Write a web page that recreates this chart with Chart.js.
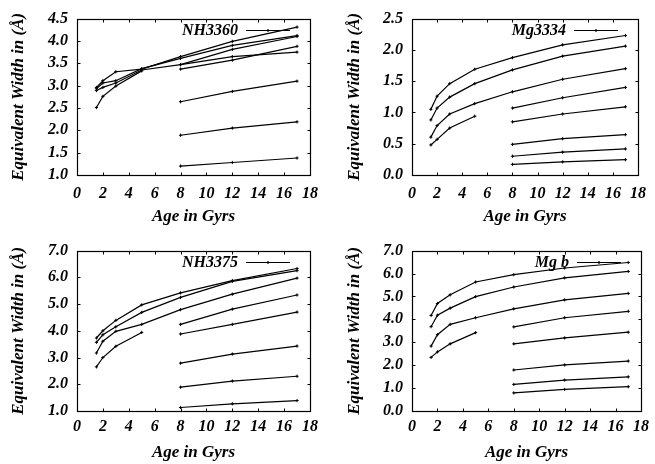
<!DOCTYPE html>
<html lang="en">
<head>
<meta charset="UTF-8">
<title>Equivalent width vs age</title>
<script src="https://cdn.jsdelivr.net/npm/chart.js"></script>
<style>
  body { margin: 0; background: #fff; }
  #wrap { position: relative; width: 655px; height: 464px; }
  #wrap canvas { position: absolute; }
</style>
</head>
<body>
<div id="wrap">
  <canvas id="c1" width="327" height="232" style="left:0;top:0"></canvas>
  <canvas id="c2" width="328" height="232" style="left:327px;top:0"></canvas>
  <canvas id="c3" width="327" height="232" style="left:0;top:232px"></canvas>
  <canvas id="c4" width="328" height="232" style="left:327px;top:232px"></canvas>
</div>
<script>
// ages (Gyr) at which each model track is sampled
const youngAges = [1.5, 2, 3, 5, 8, 12, 17];
const shortAges = [1.5, 2, 3, 5];
const oldAges = [8, 12, 17];

const panelNames = ['NH3360', 'Mg3334', 'NH3375', 'Mg b'];

// NH3360
const nh3360Young = [
  [2.96, 3.11, 3.31, 3.37, 3.65, 3.99, 4.31],
  [2.93, 3.06, 3.11, 3.38, 3.61, 3.90, 4.12],
  [2.89, 2.96, 3.06, 3.35, 3.47, 3.81, 4.10]
];
const nh3360Short = [2.51, 2.76, 2.99, 3.33];
const nh3360Old = [
  [3.47, 3.65, 3.75],
  [3.37, 3.57, 3.88],
  [2.64, 2.87, 3.10],
  [1.89, 2.05, 2.19],
  [1.20, 1.28, 1.38]
];

// Mg3334
const mg3334Young = [
  [1.05, 1.26, 1.46, 1.69, 1.875, 2.08, 2.23],
  [0.88, 1.07, 1.245, 1.46, 1.68, 1.90, 2.06],
  [0.605, 0.79, 0.975, 1.14, 1.33, 1.53, 1.70]
];
const mg3334Short = [0.48, 0.57, 0.75, 0.94];
const mg3334Old = [
  [1.07, 1.235, 1.40],
  [0.85, 0.975, 1.09],
  [0.49, 0.58, 0.645],
  [0.30, 0.366, 0.417],
  [0.17, 0.21, 0.245]
];

// NH3375
const nh3375Young = [
  [3.73, 4.00, 4.39, 4.97, 5.42, 5.88, 6.33],
  [3.57, 3.85, 4.15, 4.69, 5.25, 5.85, 6.25],
  [3.17, 3.61, 3.98, 4.24, 4.79, 5.37, 5.97]
];
const nh3375Short = [2.65, 3.00, 3.42, 3.94];
const nh3375Old = [
  [4.24, 4.81, 5.34],
  [3.88, 4.24, 4.70],
  [2.79, 3.13, 3.43],
  [1.89, 2.12, 2.30],
  [1.13, 1.27, 1.39]
];

// Mg b
const mgbYoung = [
  [4.17, 4.69, 5.07, 5.63, 5.95, 6.24, 6.48],
  [3.68, 4.18, 4.49, 4.99, 5.41, 5.81, 6.09],
  [2.83, 3.33, 3.78, 4.07, 4.46, 4.85, 5.13]
];
const mgbShort = [2.34, 2.58, 2.93, 3.42];
const mgbOld = [
  [3.67, 4.07, 4.35],
  [2.93, 3.19, 3.44],
  [1.79, 2.01, 2.18],
  [1.16, 1.35, 1.49],
  [0.79, 0.94, 1.06]
];

const FAMILY = "'Liberation Serif', 'Times New Roman', serif";
const tickFont = { family: FAMILY, size: 16, style: 'italic', weight: 'bold' };
const titleFont = { family: FAMILY, size: 17, style: 'italic', weight: 'bold' };

function track(ages, vals) {
  return {
    data: ages.map((a, i) => ({ x: a, y: vals[i] })),
    borderColor: '#000',
    borderWidth: 1.2,
    pointStyle: 'cross',
    pointRadius: 1.6,
    pointBorderWidth: 1,
    pointBorderColor: '#000',
    fill: false,
    tension: 0
  };
}

// box, inward ticks on all sides and the little key in the top right
const frame = {
  id: 'frame',
  afterDraw(chart) {
    const { ctx, chartArea: a, scales: { x, y } } = chart;
    const L = Math.round(a.left) + 0.5, R = Math.round(a.right) + 0.5;
    const T = Math.round(a.top) + 0.5, B = Math.round(a.bottom) + 0.5;
    ctx.save();
    ctx.strokeStyle = '#000';
    ctx.lineWidth = 1.2;
    ctx.strokeRect(L, T, R - L, B - T);
    ctx.lineWidth = 1;
    ctx.beginPath();
    x.ticks.forEach(t => {
      const px = Math.round(x.getPixelForValue(t.value)) + 0.5;
      ctx.moveTo(px, B); ctx.lineTo(px, B - 3);
      ctx.moveTo(px, T); ctx.lineTo(px, T + 3);
    });
    y.ticks.forEach(t => {
      const py = Math.round(y.getPixelForValue(t.value)) + 0.5;
      ctx.moveTo(L, py); ctx.lineTo(L + 3, py);
      ctx.moveTo(R, py); ctx.lineTo(R - 3, py);
    });
    ctx.stroke();

    const key = chart.options.plugins.frame.key;
    const ky = Math.round(a.top + 11) + 0.5;
    const x2 = a.right - 20, x1 = x2 - 44;
    const mx = (x1 + x2) / 2;
    ctx.lineWidth = 1.2;
    ctx.beginPath();
    ctx.moveTo(x1, ky); ctx.lineTo(x2, ky);
    ctx.moveTo(mx - 1.6, ky); ctx.lineTo(mx + 1.6, ky);
    ctx.moveTo(mx, ky - 1.6); ctx.lineTo(mx, ky + 1.6);
    ctx.stroke();
    ctx.fillStyle = '#000';
    ctx.font = 'italic bold 16px ' + FAMILY;
    ctx.textAlign = 'right';
    ctx.textBaseline = 'middle';
    ctx.fillText(key, x1 - 8, ky);
    ctx.restore();
  }
};

function makePanel(id, name, young, short, old, yMin, yMax, yStep, lay) {
  const datasets = [];
  young.forEach(v => datasets.push(track(youngAges, v)));
  datasets.push(track(shortAges, short));
  old.forEach(v => datasets.push(track(oldAges, v)));

  new Chart(document.getElementById(id), {
    type: 'line',
    data: { datasets: datasets },
    plugins: [frame],
    options: {
      responsive: false,
      animation: false,
      layout: { padding: { top: lay.top, right: lay.right, left: 0, bottom: 0 } },
      plugins: {
        legend: { display: false },
        tooltip: { enabled: false },
        frame: { key: name }
      },
      scales: {
        x: {
          type: 'linear',
          min: 0, max: 18,
          grid: { display: false, drawTicks: false },
          border: { display: false },
          ticks: { stepSize: 2, color: '#000', font: tickFont, padding: lay.xPad, maxRotation: 0 },
          title: { display: true, text: 'Age in Gyrs', color: '#000', font: titleFont,
                   padding: { top: 0, bottom: lay.xTitlePad } },
          afterFit(s) { s.height = lay.xH; }
        },
        y: {
          type: 'linear',
          min: yMin, max: yMax,
          grid: { display: false, drawTicks: false },
          border: { display: false },
          ticks: { stepSize: yStep, color: '#000', font: tickFont, padding: 9,
                   callback: v => v.toFixed(1) },
          title: { display: true, text: 'Equivalent Width in (Å)', color: '#000', font: titleFont,
                   padding: { top: lay.yTitlePad, bottom: 0 } },
          afterFit(s) { s.width = lay.yW; }
        }
      }
    }
  });
}

const layTL = { top: 11, right: 17, xH: 57, xPad: 9, xTitlePad: 5, yW: 77, yTitlePad: 8 };
const layTR = { top: 11, right: 11, xH: 57, xPad: 9, xTitlePad: 5, yW: 85, yTitlePad: 17 };
const layBL = { top: 14, right: 17, xH: 53, xPad: 6, xTitlePad: 1, yW: 77, yTitlePad: 8 };
const layBR = { top: 14, right: 11, xH: 53, xPad: 6, xTitlePad: 1, yW: 85, yTitlePad: 17 };

makePanel('c1', panelNames[0], nh3360Young, nh3360Short, nh3360Old, 1.0, 4.5, 0.5, layTL);
makePanel('c2', panelNames[1], mg3334Young, mg3334Short, mg3334Old, 0.0, 2.5, 0.5, layTR);
makePanel('c3', panelNames[2], nh3375Young, nh3375Short, nh3375Old, 1.0, 7.0, 1.0, layBL);
makePanel('c4', panelNames[3], mgbYoung, mgbShort, mgbOld, 0.0, 7.0, 1.0, layBR);
</script>
</body>
</html>
